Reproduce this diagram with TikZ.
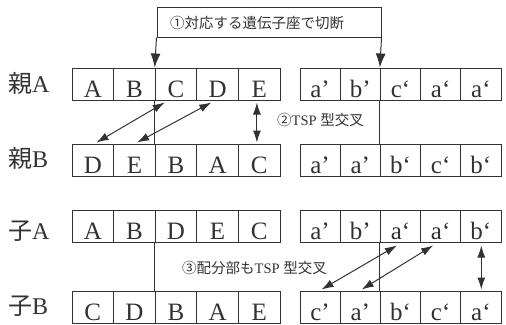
\documentclass[tikz,border=0pt]{standalone}
\usepackage{fontspec}
\setmainfont{Liberation Serif}
\newfontfamily\cjk{Noto Sans CJK JP}
\usetikzlibrary{arrows.meta}
\definecolor{ink}{RGB}{50,50,50}
\tikzset{
  cellL/.style={draw=ink, line width=1pt, inner sep=0pt, minimum width=41.6pt,
     text height=29pt, text depth=3pt, font=\fontsize{25}{25}\selectfont, text=ink},
  cellR/.style={cellL, minimum width=40.2pt},
  rowlbl/.style={anchor=base west, inner sep=0pt, font=\fontsize{24}{24}\selectfont, text=ink},
  note/.style={inner sep=0pt, font=\fontsize{14.5}{15}\selectfont, text=ink},
  ln/.style={draw=ink, line width=1pt},
  dbl/.style={ln, {Latex[length=12pt,width=8pt]}-{Latex[length=12pt,width=8pt]}},
  cutarrow/.style={ln, -{Latex[length=14pt,width=10pt]}}
}
\begin{document}
\begin{tikzpicture}[x=1pt,y=-1pt]
\useasboundingbox (0,0) rectangle (506,324);
% row labels
\node[rowlbl] (lA) at (8,92) {{\cjk 親}A};
\node[rowlbl] (lB) at (8,167.5) {{\cjk 親}B};
\node[rowlbl] (kA) at (8,239.5) {{\cjk 子}A};
\node[rowlbl] (kB) at (8,314.5) {{\cjk 子}B};
% left cells
\foreach \t [count=\i] in {A,B,C,D,E}
  \node[cellL] (r1c\i) at ({72+41.6*(\i-0.5)},84) {\t};
\foreach \t [count=\i] in {D,E,B,A,C}
  \node[cellL] (r2c\i) at ({72+41.6*(\i-0.5)},160) {\t};
\foreach \t [count=\i] in {A,B,D,E,C}
  \node[cellL] (r3c\i) at ({72+41.6*(\i-0.5)},226) {\t};
\foreach \t [count=\i] in {C,D,B,A,E}
  \node[cellL] (r4c\i) at ({72+41.6*(\i-0.5)},307) {\t};
% right cells
\foreach \t [count=\i] in {a’,b’,c‘,a‘,a‘}
  \node[cellR] (s1c\i) at ({300+40.2*(\i-0.5)},84) {\t};
\foreach \t [count=\i] in {a’,a’,b‘,c‘,b‘}
  \node[cellR] (s2c\i) at ({300+40.2*(\i-0.5)},160) {\t};
\foreach \t [count=\i] in {a’,b’,a‘,a‘,b‘}
  \node[cellR] (s3c\i) at ({300+40.2*(\i-0.5)},226) {\t};
\foreach \t [count=\i] in {c’,a’,b‘,c‘,a‘}
  \node[cellR] (s4c\i) at ({300+40.2*(\i-0.5)},307) {\t};
% cut box
\node[draw=ink, line width=1pt, minimum width=224pt, minimum height=30pt, inner sep=0pt] (cutbox) at (269,22) {};
\node[note] (cuttext) at (257,23) {\cjk ①対応する遺伝子座で切断};
\draw[cutarrow] (cutbox.south west) -- (r1c3.north west);
\draw[cutarrow] (cutbox.south east) -- (s1c3.north west);
\draw[ln] (r1c3.south west) -- (r2c3.north west);
\draw[ln] (s1c3.south west) -- (s2c3.north west);
\draw[ln] (r3c3.south west) -- (r4c3.north west);
\draw[ln] (s3c3.south west) -- (s4c3.north west);
% TSP crossover on parents
\draw[dbl] ([xshift=10pt,yshift=-2pt]r1c3.south west) -- ([xshift=25pt,yshift=1pt]r2c1.north west);
\draw[dbl] ([xshift=15pt,yshift=-2pt]r1c4.south west) -- ([xshift=24pt,yshift=1pt]r2c2.north west);
\draw[dbl] ([xshift=19pt,yshift=-2pt]r1c5.south west) -- ([xshift=19pt,yshift=1pt]r2c5.north west);
\node[note, anchor=west] (tsp1) at (277,120) {{\cjk ②}TSP {\cjk 型交叉}};
% TSP crossover on allocation part
\draw[dbl] ([xshift=17pt,yshift=-3pt]s3c3.south west) -- ([xshift=22pt,yshift=1pt]s4c1.north west);
\draw[dbl] ([xshift=13pt,yshift=-3pt]s3c4.south west) -- ([xshift=22pt,yshift=1pt]s4c2.north west);
\draw[dbl] ([xshift=21pt,yshift=-3pt]s3c5.south west) -- ([xshift=21pt,yshift=1pt]s4c5.north west);
\node[note, anchor=west] (tsp2) at (182,268) {{\cjk ③配分部も}TSP {\cjk 型交叉}};
\end{tikzpicture}
\end{document}
